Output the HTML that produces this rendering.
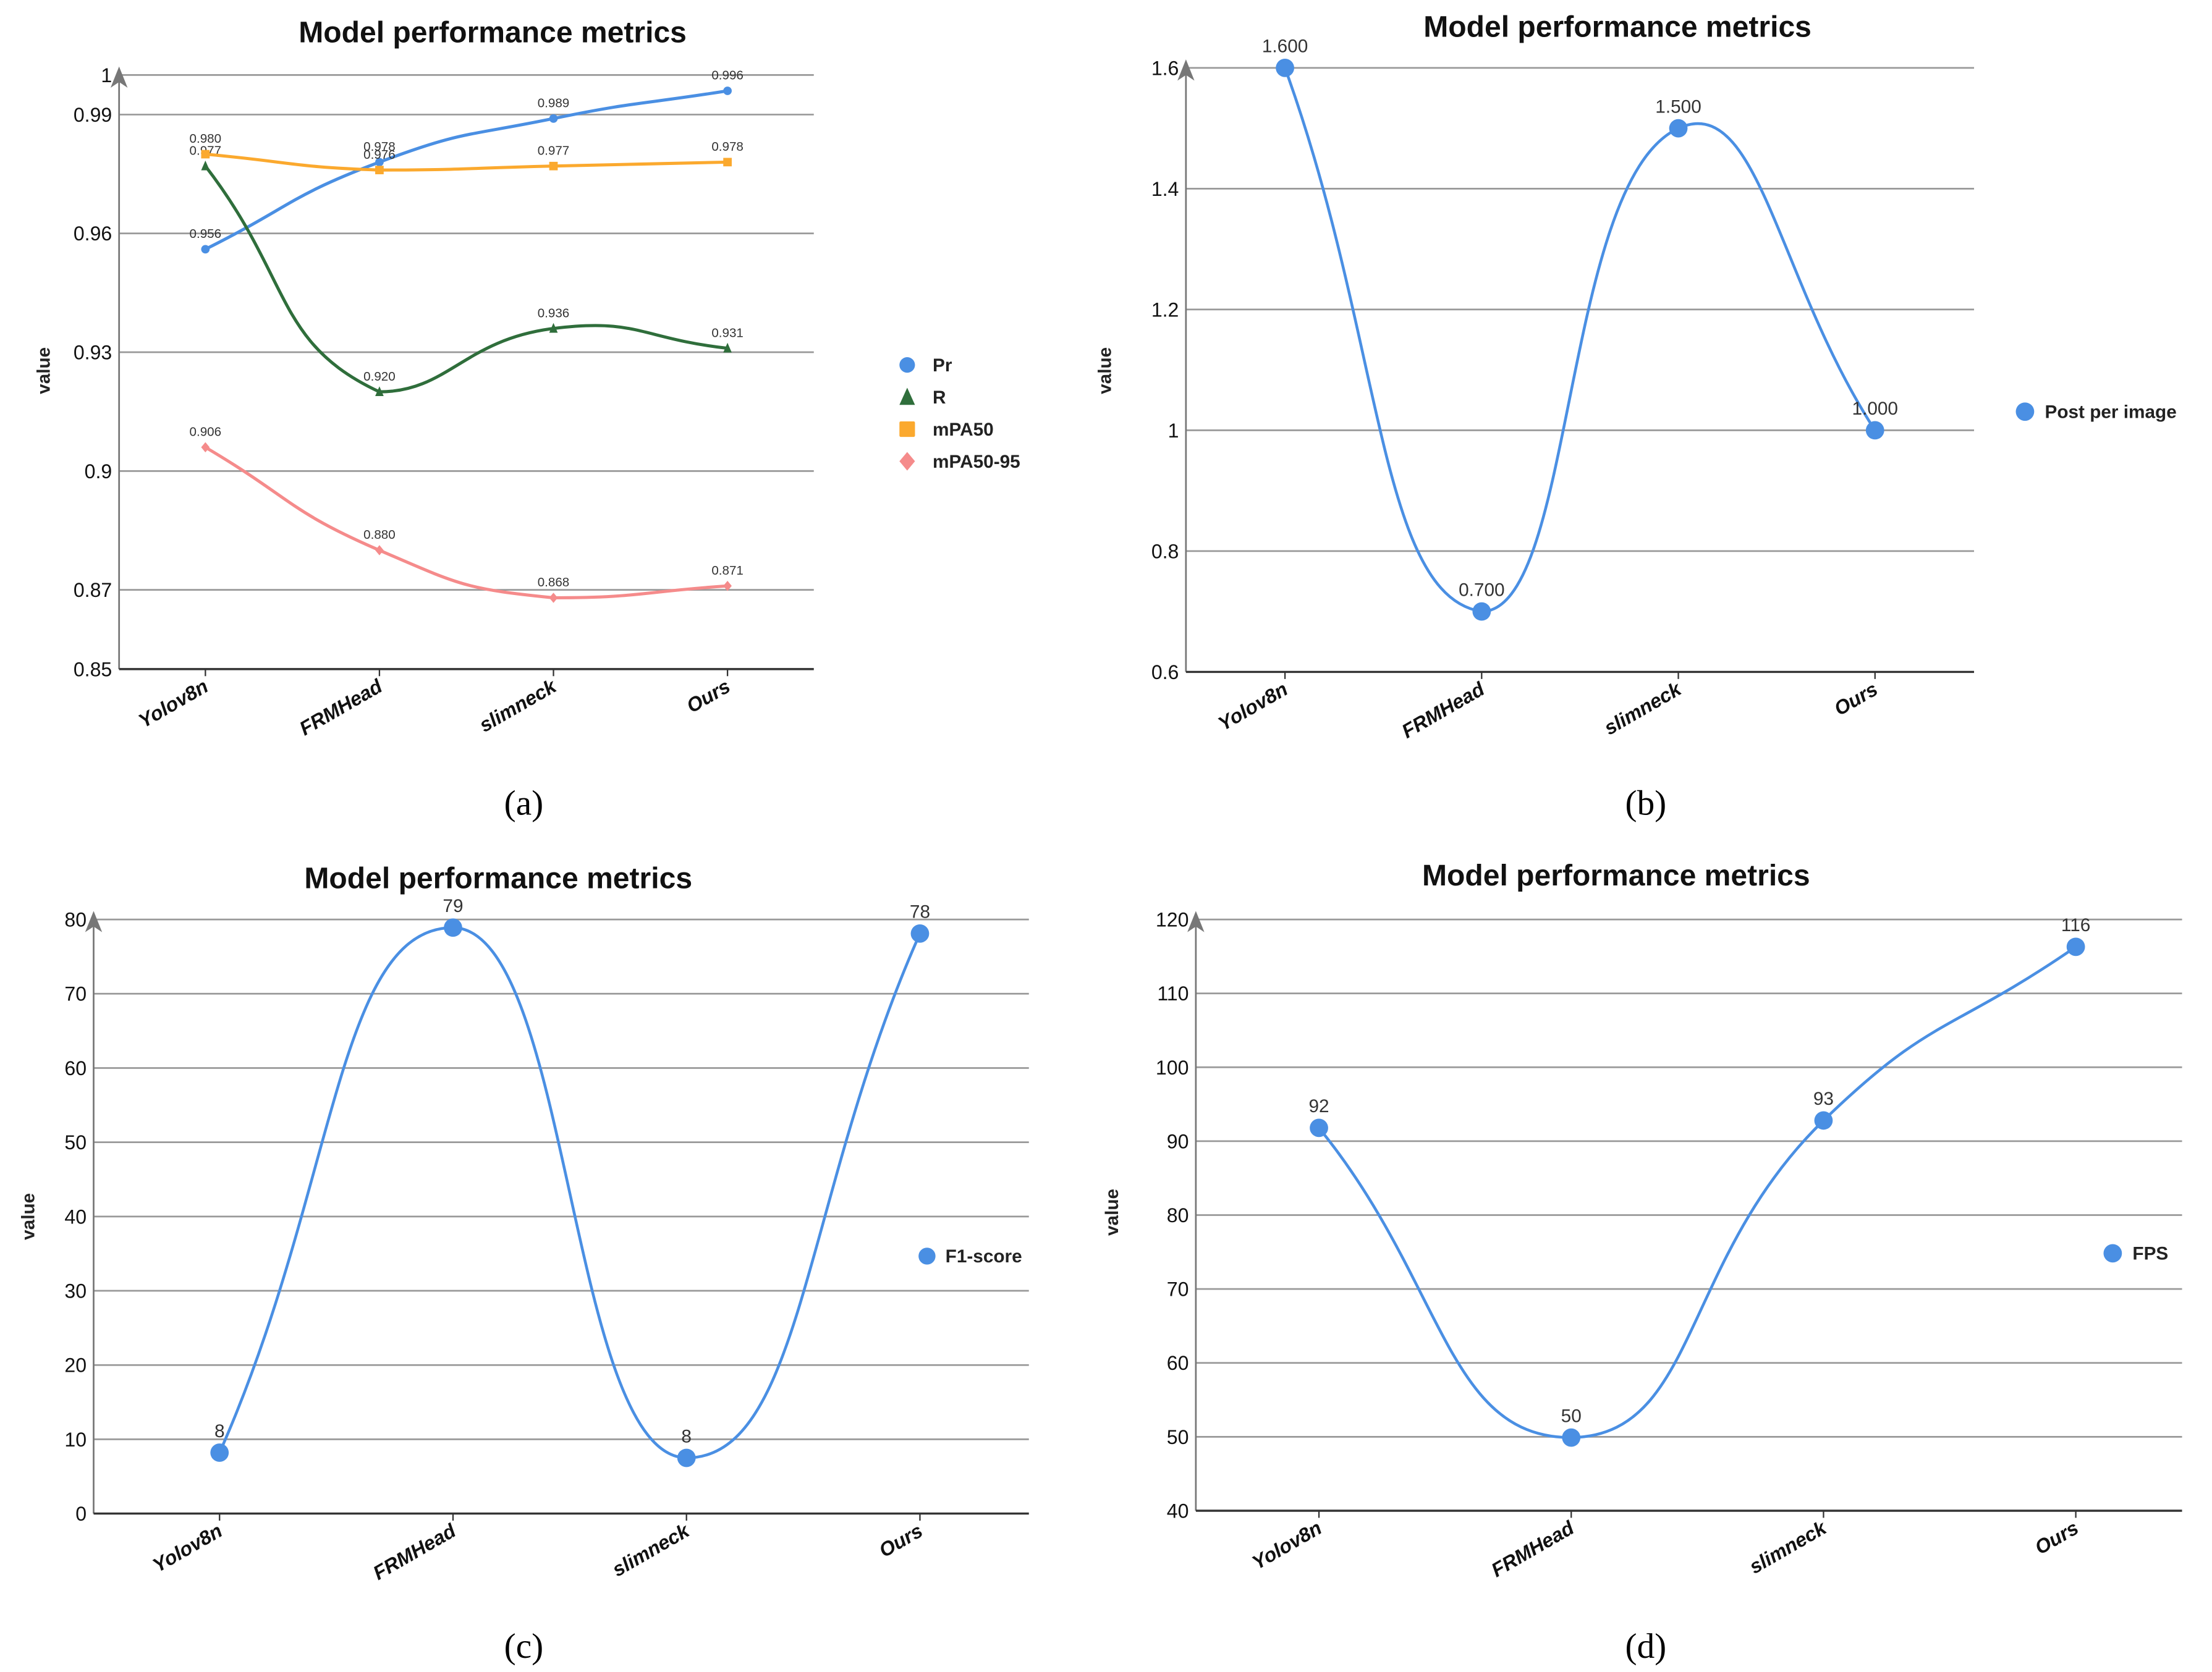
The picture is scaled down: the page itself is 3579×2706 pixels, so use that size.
<!DOCTYPE html>
<html><head><meta charset="utf-8">
<style>
html,body{margin:0;padding:0;background:#fff;}
svg{display:block;}
text{font-family:"Liberation Sans","Noto Sans CJK SC",sans-serif;}
text.cap{font-family:"Liberation Serif",serif;}
</style></head>
<body>
<svg id="root" width="3579" height="2706" viewBox="0 0 1563 1182" xmlns="http://www.w3.org/2000/svg">
<rect width="1563" height="1182" fill="#fff"/>
</svg>
<script>
const categories = ["Yolov8n","FRMHead","slimneck","Ours"];
// panel a
const aTicks = [0.85,0.87,0.9,0.93,0.96,0.99,1];
const aTickLabels = ["0.85","0.87","0.9","0.93","0.96","0.99","1"];
const aPr = [0.956,0.978,0.989,0.996];
const aR = [0.977,0.920,0.936,0.931];
const aMPA50 = [0.980,0.976,0.977,0.978];
const aMPA5095 = [0.906,0.880,0.868,0.871];
// panel b
const bTicks = [0.6,0.8,1,1.2,1.4,1.6];
const bTickLabels = ["0.6","0.8","1","1.2","1.4","1.6"];
const bPost = [1.6,0.7,1.5,1.0];
// panel c
const cTicks = [0,10,20,30,40,50,60,70,80];
const cTickLabels = ["0","10","20","30","40","50","60","70","80"];
const cF1 = [8.2,78.9,7.5,78.1];
// panel d
const dTicks = [40,50,60,70,80,90,100,110,120];
const dTickLabels = ["40","50","60","70","80","90","100","110","120"];
const dFPS = [91.8,49.9,92.8,116.3];

const NS="http://www.w3.org/2000/svg";
const root=document.getElementById('root');
function mk(tag,attrs,parent,txt){const e=document.createElementNS(NS,tag);for(const k in attrs)e.setAttribute(k,attrs[k]);if(txt!==undefined)e.textContent=txt;(parent||root).appendChild(e);return e;}

function smoothPath(pts){
  const ysAll=pts.map(p=>p[1]);
  const ymin=Math.min(...ysAll),ymax=Math.max(...ysAll);
  const cl=v=>Math.max(ymin,Math.min(ymax,v));
  let d="M"+pts[0][0]+","+pts[0][1];
  const cps=pts.map((p,i)=>{
    const prev=pts[Math.max(0,i-1)],next=pts[Math.min(pts.length-1,i+1)];
    const vx=next[0]-prev[0],vy=next[1]-prev[1];
    const d0=Math.hypot(p[0]-prev[0],p[1]-prev[1]),d1=Math.hypot(next[0]-p[0],next[1]-p[1]);
    const s=0.5,tot=d0+d1||1;
    return {in:[p[0]-vx*s*d0/tot,cl(p[1]-vy*s*d0/tot)],out:[p[0]+vx*s*d1/tot,cl(p[1]+vy*s*d1/tot)]};
  });
  for(let i=1;i<pts.length;i++){
    d+=" C"+cps[i-1].out[0]+","+cps[i-1].out[1]+" "+cps[i].in[0]+","+cps[i].in[1]+" "+pts[i][0]+","+pts[i][1];
  }
  return d;
}

function panel(cfg){
  const g=mk('g',{});
  
  
  const ys=v=>cfg.yBot+(v-cfg.ticks[0])/(cfg.ticks[cfg.ticks.length-1]-cfg.ticks[0])*(cfg.yTop-cfg.yBot);
  const xs=i=>cfg.catX[0]+i*(cfg.catX[1]-cfg.catX[0]);
  let t=mk('text',{x:cfg.titleX,y:cfg.titleY,'text-anchor':'middle','font-size':21,'font-weight':'bold',fill:'#111'},g,'Model performance metrics');
  
  cfg.ticks.forEach((v,i)=>{
    const y=ys(v);
    if(i>0){const l=mk('line',{x1:cfg.axisX,x2:cfg.right,y1:y,y2:y,stroke:'#999','stroke-width':1.2},g);
      }
    const tl=mk('text',{x:cfg.axisX-5,y:y+5,'text-anchor':'end','font-size':14,fill:'#111'},g,cfg.tickLabels[i]);
    
  });
  const ax=mk('line',{x1:cfg.axisX,x2:cfg.axisX,y1:cfg.yBot,y2:cfg.yTop-4,stroke:'#777','stroke-width':1.2},g);
  
  const ar=mk('path',{d:`M${cfg.axisX},${cfg.yTop-6} L${cfg.axisX-6},${cfg.yTop+9} L${cfg.axisX},${cfg.yTop+5} L${cfg.axisX+6},${cfg.yTop+9}Z`,fill:'#777'},g);
  
  const xa=mk('line',{x1:cfg.axisX,x2:cfg.right,y1:cfg.yBot,y2:cfg.yBot,stroke:'#333','stroke-width':1.5},g);
  
  categories.forEach((c,i)=>{
    const x=xs(i);
    const tk=mk('line',{x1:x,x2:x,y1:cfg.yBot,y2:cfg.yBot+5,stroke:'#333','stroke-width':1},g);
    
    const lb=mk('text',{x:x+3,y:cfg.yBot+15,'text-anchor':'end','font-size':14,'font-weight':'bold','font-style':'italic',fill:'#111',transform:`rotate(-30 ${x+3} ${cfg.yBot+15})`},g,c);
    
  });
  const yt=mk('text',{x:cfg.vX,y:cfg.vY,'text-anchor':'middle','font-size':13,'font-weight':'bold',fill:'#222',transform:`rotate(-90 ${cfg.vX} ${cfg.vY})`},g,'value');
  
  cfg.series.forEach((s,si)=>{
    const pts=s.values.map((v,i)=>[xs(i),ys(v)]);
    const p=mk('path',{d:smoothPath(pts),fill:'none',stroke:s.color,'stroke-width':cfg.lw},g);
    
    pts.forEach((pt,i)=>{
      let m;
      const r=cfg.r;
      if(s.shape==='tri') m=mk('path',{d:`M${pt[0]},${pt[1]-r*1.3} L${pt[0]-r},${pt[1]+r} L${pt[0]+r},${pt[1]+r}Z`,fill:s.color},g);
      else if(s.shape==='sq') m=mk('rect',{x:pt[0]-r,y:pt[1]-r,width:2*r,height:2*r,fill:s.color},g);
      else if(s.shape==='dia') m=mk('path',{d:`M${pt[0]},${pt[1]-r*1.2} L${pt[0]-r},${pt[1]} L${pt[0]},${pt[1]+r*1.2} L${pt[0]+r},${pt[1]}Z`,fill:s.color},g);
      else m=mk('circle',{cx:pt[0],cy:pt[1],r:r,fill:s.color},g);
      
      
      const lab=mk('text',{x:pt[0],y:pt[1]-cfg.labOff,'text-anchor':'middle','font-size':cfg.labSize,fill:'#333'},g,cfg.fmt(s.values[i]));
      
    });
    const ly=cfg.legY+si*cfg.legStep;
    let lm;
    const lr=cfg.legR;
    if(s.shape==='tri') lm=mk('path',{d:`M${cfg.legX},${ly-lr*1.2} L${cfg.legX-lr},${ly+lr} L${cfg.legX+lr},${ly+lr}Z`,fill:s.color},g);
    else if(s.shape==='sq') lm=mk('rect',{x:cfg.legX-lr,y:ly-lr,width:2*lr,height:2*lr,rx:1,fill:s.color},g);
    else if(s.shape==='dia') lm=mk('path',{d:`M${cfg.legX},${ly-lr*1.2} L${cfg.legX-lr},${ly} L${cfg.legX},${ly+lr*1.2} L${cfg.legX+lr},${ly}Z`,fill:s.color},g);
    else lm=mk('circle',{cx:cfg.legX,cy:ly,r:lr,fill:s.color},g);
    
    const lt=mk('text',{x:cfg.legX+cfg.legGap,y:ly+4.5,'font-size':13,'font-weight':'bold',fill:'#222'},g,s.label);
    
  });
  const cap=mk('text',{x:cfg.capX,y:cfg.capY,'text-anchor':'middle','font-size':25,fill:'#000','class':'cap'},g,cfg.cap);
  
}

panel({name:'panel-a',ticks:aTicks,tickLabels:aTickLabels,yBot:473,yTop:53,axisX:84,right:575,catX:[145,268],
  titleX:348,titleY:30,vX:35,vY:262,lw:2.2,r:3,labOff:8,labSize:9,fmt:v=>v.toFixed(3),
  legX:641,legY:258,legStep:22.7,legR:5.5,legGap:18,capX:370,capY:576,cap:'(a)',
  series:[{key:'pr',label:'Pr',values:aPr,color:'#4a8fe3',shape:'circle'},
          {key:'r',label:'R',values:aR,color:'#2f6e3b',shape:'tri'},
          {key:'mpa50',label:'mPA50',values:aMPA50,color:'#fba92e',shape:'sq'},
          {key:'mpa5095',label:'mPA50-95',values:aMPA5095,color:'#f58b8b',shape:'dia'}]});
panel({name:'panel-b',ticks:bTicks,tickLabels:bTickLabels,yBot:475,yTop:48,axisX:838,right:1395,catX:[908,1047],
  titleX:1143,titleY:26,vX:785,vY:262,lw:2,r:6.5,labOff:11,labSize:13,fmt:v=>v.toFixed(3),
  legX:1431,legY:291,legStep:0,legR:6.5,legGap:14,capX:1163,capY:576,cap:'(b)',
  series:[{key:'post',label:'Post per image',values:bPost,color:'#4a8fe3',shape:'circle'}]});
panel({name:'panel-c',ticks:cTicks,tickLabels:cTickLabels,yBot:1070,yTop:650,axisX:66,right:727,catX:[155,320],
  titleX:352,titleY:628,vX:24,vY:860,lw:2,r:6.5,labOff:11,labSize:13,fmt:v=>String(Math.round(v)),
  legX:655,legY:888,legStep:0,legR:6,legGap:13,capX:370,capY:1172,cap:'(c)',
  series:[{key:'f1',label:'F1-score',values:cF1,color:'#4a8fe3',shape:'circle'}]});
panel({name:'panel-d',ticks:dTicks,tickLabels:dTickLabels,yBot:1068,yTop:650,axisX:845,right:1542,catX:[932,1110.3],
  titleX:1142,titleY:626,vX:790,vY:857,lw:2,r:6.5,labOff:11,labSize:13,fmt:v=>String(Math.round(v)),
  legX:1493,legY:886,legStep:0,legR:6.5,legGap:14,capX:1163,capY:1172,cap:'(d)',
  series:[{key:'fps',label:'FPS',values:dFPS,color:'#4a8fe3',shape:'circle'}]});
</script>
</body></html>
